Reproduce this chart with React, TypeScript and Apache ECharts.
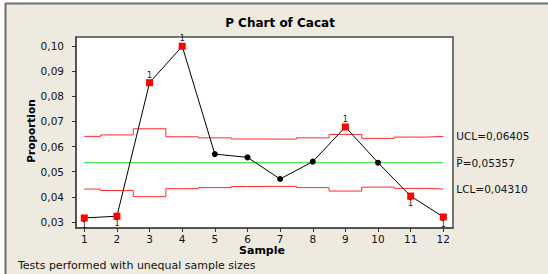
import React, { useEffect, useRef } from "react";
import * as echarts from "echarts";

const samples = [1, 2, 3, 4, 5, 6, 7, 8, 9, 10, 11, 12];
const proportion = [0.0316, 0.0323, 0.0854, 0.0999, 0.0570, 0.0557, 0.0471, 0.0540, 0.0678, 0.0536, 0.0403, 0.0320];
const ucl = [0.06405, 0.06463, 0.06708, 0.06389, 0.06347, 0.06302, 0.06296, 0.06347, 0.06483, 0.06327, 0.06378, 0.06405];
const lcl = [0.0431, 0.04251, 0.04006, 0.04325, 0.04367, 0.04412, 0.04418, 0.04367, 0.04231, 0.04387, 0.04336, 0.0431];
const pBar = 0.05357;
const failedTest = [1, 1, 1, 1, 0, 0, 0, 0, 1, 0, 1, 1];
const labelBelow = [1, 1, 0, 0, 0, 0, 0, 0, 0, 0, 1, 1];
const yTicks = [0.03, 0.04, 0.05, 0.06, 0.07, 0.08, 0.09, 0.1];
const uclLabel = "UCL=0,06405";
const pLabel = "P\u0305=0,05357";
const lclLabel = "LCL=0,04310";
const titleText = "P Chart of Cacat";
const xName = "Sample";
const yName = "Proportion";
const noteText = "Tests performed with unequal sample sizes";

const FONT = "'DejaVu Sans', Verdana, sans-serif";

export default function App() {
  const ref = useRef<HTMLDivElement>(null);
  useEffect(() => {
    document.body.style.margin = "0";
    const chart = echarts.init(ref.current!, null, { renderer: "svg" });
    const endLbl = (text: string) => ({
      show: true,
      formatter: text,
      distance: 13,
      color: "#111",
      fontSize: 10.5,
      fontFamily: FONT,
    });
    chart.setOption({
      animation: false,
      backgroundColor: "#ffffff",
      textStyle: { fontFamily: FONT },
      graphic: [
        { type: "rect", shape: { x: 5, y: 3, width: 543, height: 271 }, style: { fill: "#EEEAE0" }, z: -10 },
        { type: "line", shape: { x1: 5, y1: 3.5, x2: 548, y2: 3.5 }, style: { stroke: "#6e6e6e", lineWidth: 2 }, z: -5 },
        { type: "line", shape: { x1: 5.5, y1: 3, x2: 5.5, y2: 274 }, style: { stroke: "#6e6e6e", lineWidth: 2 }, z: -5 },
        {
          type: "text", x: 280, y: 23,
          style: { text: titleText, fontSize: 12, fontWeight: "bold", fontFamily: FONT, fill: "#000", align: "center", verticalAlign: "middle" },
        },
        {
          type: "text", x: 262, y: 250,
          style: { text: xName, fontSize: 11, fontWeight: "bold", fontFamily: FONT, fill: "#000", align: "center", verticalAlign: "middle" },
        },
        {
          type: "text", x: 31, y: 131, rotation: Math.PI / 2,
          style: { text: yName, fontSize: 10.5, fontWeight: "bold", fontFamily: FONT, fill: "#000", align: "center", verticalAlign: "middle" },
        },
        {
          type: "text", x: 18, y: 265,
          style: { text: noteText, fontSize: 11, fontFamily: FONT, fill: "#111", align: "left", verticalAlign: "middle" },
        },
      ],
      grid: {
        left: 76, top: 37, right: 95, bottom: 46,
        show: true, backgroundColor: "#ffffff", borderColor: "#4a4a4a", borderWidth: 1.5,
      },
      xAxis: {
        type: "value", min: 0.746, max: 12.297,
        splitLine: { show: false },
        axisLine: { show: true, lineStyle: { color: "#4a4a4a", width: 1.5 } },
        axisTick: { show: true, length: 4, customValues: samples, lineStyle: { color: "#333" } },
        axisLabel: { customValues: samples, margin: 5, fontSize: 10.5, color: "#111", fontFamily: FONT },
      },
      yAxis: {
        type: "value", min: 0.02761, max: 0.10358,
        splitLine: { show: false },
        axisLine: { show: true, lineStyle: { color: "#4a4a4a", width: 1.5 } },
        axisTick: { show: true, length: 4, customValues: yTicks, lineStyle: { color: "#333" } },
        axisLabel: {
          customValues: yTicks, margin: 12, fontSize: 10.5, color: "#111", fontFamily: FONT,
          formatter: (v: number) => v.toFixed(2).replace(".", ","),
        },
      },
      series: [
        {
          type: "line", step: "middle", symbol: "none",
          data: samples.map((s, i) => [s, ucl[i]]),
          lineStyle: { color: "#ff2a2a", width: 1 },
          endLabel: endLbl(uclLabel), z: 2,
        },
        {
          type: "line", step: "middle", symbol: "none",
          data: samples.map((s, i) => [s, lcl[i]]),
          lineStyle: { color: "#ff2a2a", width: 1 },
          endLabel: endLbl(lclLabel), z: 2,
        },
        {
          type: "line", symbol: "none",
          data: samples.map((s) => [s, pBar]),
          lineStyle: { color: "#22e022", width: 1 },
          endLabel: endLbl(pLabel), z: 2,
        },
        {
          type: "line",
          z: 3,
          clip: false,
          lineStyle: { color: "#000", width: 1 },
          labelLayout: { hideOverlap: false },
          data: samples.map((s, i) => {
            const bad = failedTest[i] === 1;
            const below = labelBelow[i] === 1;
            return {
              value: [s, proportion[i]],
              symbol: bad ? "rect" : "circle",
              symbolSize: bad ? 7 : 6,
              itemStyle: { color: bad ? "#ff0000" : "#000000" },
              label: {
                show: bad,
                formatter: "1",
                position: below ? "bottom" : "top",
                distance: 0,
                offset: below ? [0, -1.5] : [0, 1],
                fontSize: 8,
                color: "#111",
                fontFamily: FONT,
              },
            };
          }),
        },
      ],
    });
    return () => chart.dispose();
  }, []);
  return <div ref={ref} style={{ position: "fixed", left: 0, top: 0, width: 548, height: 274 }} />;
}
